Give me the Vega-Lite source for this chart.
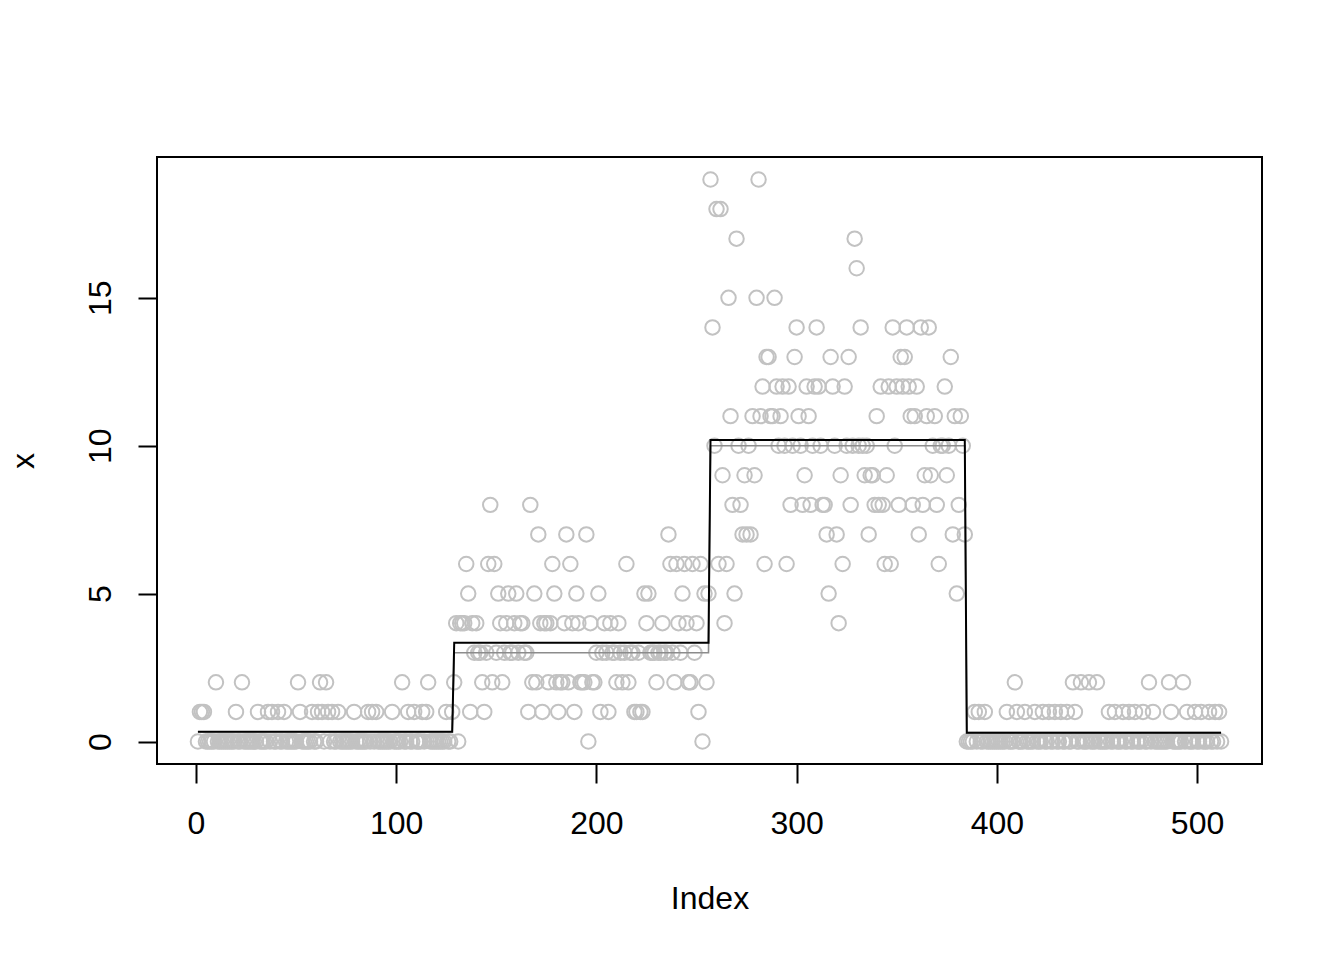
{
  "$schema": "https://vega.github.io/schema/vega-lite/v6.json",
  "autosize": {"type": "none"},
  "padding": {"left": 157, "top": 157, "right": 82, "bottom": 196},
  "width": 1105,
  "height": 607,
  "background": "white",
  "config": {
    "view": {"stroke": "black", "strokeWidth": 2},
    "font": "Liberation Sans"
  },
  "datasets": {
    "pts": [
{"i":1,"x":0},{"i":2,"x":1},{"i":3,"x":1},{"i":4,"x":1},{"i":5,"x":0},{"i":6,"x":0},{"i":7,"x":0},{"i":8,"x":0},{"i":9,"x":0},{"i":10,"x":2},
{"i":11,"x":0},{"i":12,"x":0},{"i":13,"x":0},{"i":14,"x":0},{"i":15,"x":0},{"i":16,"x":0},{"i":17,"x":0},{"i":18,"x":0},{"i":19,"x":0},{"i":20,"x":1},
{"i":21,"x":0},{"i":22,"x":0},{"i":23,"x":2},{"i":24,"x":0},{"i":25,"x":0},{"i":26,"x":0},{"i":27,"x":0},{"i":28,"x":0},{"i":29,"x":0},{"i":30,"x":0},
{"i":31,"x":1},{"i":32,"x":0},{"i":33,"x":0},{"i":34,"x":0},{"i":35,"x":0},{"i":36,"x":1},{"i":37,"x":0},{"i":38,"x":1},{"i":39,"x":0},{"i":40,"x":0},
{"i":41,"x":1},{"i":42,"x":0},{"i":43,"x":0},{"i":44,"x":1},{"i":45,"x":0},{"i":46,"x":0},{"i":47,"x":0},{"i":48,"x":0},{"i":49,"x":0},{"i":50,"x":0},
{"i":51,"x":2},{"i":52,"x":1},{"i":53,"x":0},{"i":54,"x":0},{"i":55,"x":0},{"i":56,"x":0},{"i":57,"x":0},{"i":58,"x":1},{"i":59,"x":0},{"i":60,"x":0},
{"i":61,"x":1},{"i":62,"x":2},{"i":63,"x":1},{"i":64,"x":0},{"i":65,"x":2},{"i":66,"x":1},{"i":67,"x":0},{"i":68,"x":1},{"i":69,"x":0},{"i":70,"x":0},
{"i":71,"x":1},{"i":72,"x":0},{"i":73,"x":0},{"i":74,"x":0},{"i":75,"x":0},{"i":76,"x":0},{"i":77,"x":0},{"i":78,"x":0},{"i":79,"x":1},{"i":80,"x":0},
{"i":81,"x":0},{"i":82,"x":0},{"i":83,"x":0},{"i":84,"x":0},{"i":85,"x":0},{"i":86,"x":1},{"i":87,"x":0},{"i":88,"x":1},{"i":89,"x":0},{"i":90,"x":1},
{"i":91,"x":0},{"i":92,"x":0},{"i":93,"x":0},{"i":94,"x":0},{"i":95,"x":0},{"i":96,"x":0},{"i":97,"x":0},{"i":98,"x":1},{"i":99,"x":0},{"i":100,"x":0},
{"i":101,"x":0},{"i":102,"x":0},{"i":103,"x":2},{"i":104,"x":0},{"i":105,"x":0},{"i":106,"x":1},{"i":107,"x":0},{"i":108,"x":0},{"i":109,"x":1},{"i":110,"x":0},
{"i":111,"x":0},{"i":112,"x":0},{"i":113,"x":1},{"i":114,"x":0},{"i":115,"x":1},{"i":116,"x":2},{"i":117,"x":0},{"i":118,"x":0},{"i":119,"x":0},{"i":120,"x":0},
{"i":121,"x":0},{"i":122,"x":0},{"i":123,"x":0},{"i":124,"x":0},{"i":125,"x":1},{"i":126,"x":0},{"i":127,"x":0},{"i":128,"x":1},
{"i":129,"x":2},{"i":130,"x":4},{"i":131,"x":0},{"i":132,"x":4},{"i":133,"x":4},{"i":134,"x":4},{"i":135,"x":6},{"i":136,"x":5},{"i":137,"x":1},{"i":138,"x":4},
{"i":139,"x":3},{"i":140,"x":4},{"i":141,"x":3},{"i":142,"x":3},{"i":143,"x":2},{"i":144,"x":1},{"i":145,"x":3},{"i":146,"x":6},{"i":147,"x":8},{"i":148,"x":2},
{"i":149,"x":6},{"i":150,"x":3},{"i":151,"x":5},{"i":152,"x":4},{"i":153,"x":2},{"i":154,"x":3},{"i":155,"x":4},{"i":156,"x":5},{"i":157,"x":3},{"i":158,"x":3},
{"i":159,"x":4},{"i":160,"x":5},{"i":161,"x":3},{"i":162,"x":4},{"i":163,"x":4},{"i":164,"x":3},{"i":165,"x":3},{"i":166,"x":1},{"i":167,"x":8},{"i":168,"x":2},
{"i":169,"x":5},{"i":170,"x":2},{"i":171,"x":7},{"i":172,"x":4},{"i":173,"x":1},{"i":174,"x":4},{"i":175,"x":4},{"i":176,"x":2},{"i":177,"x":4},{"i":178,"x":6},
{"i":179,"x":5},{"i":180,"x":2},{"i":181,"x":1},{"i":182,"x":2},{"i":183,"x":2},{"i":184,"x":4},{"i":185,"x":7},{"i":186,"x":2},{"i":187,"x":6},{"i":188,"x":4},
{"i":189,"x":1},{"i":190,"x":5},{"i":191,"x":4},{"i":192,"x":2},{"i":193,"x":2},{"i":194,"x":2},{"i":195,"x":7},{"i":196,"x":0},{"i":197,"x":4},{"i":198,"x":2},
{"i":199,"x":2},{"i":200,"x":3},{"i":201,"x":5},{"i":202,"x":1},{"i":203,"x":3},{"i":204,"x":4},{"i":205,"x":3},{"i":206,"x":1},{"i":207,"x":4},{"i":208,"x":3},
{"i":209,"x":3},{"i":210,"x":2},{"i":211,"x":4},{"i":212,"x":3},{"i":213,"x":2},{"i":214,"x":3},{"i":215,"x":6},{"i":216,"x":2},{"i":217,"x":3},{"i":218,"x":3},
{"i":219,"x":1},{"i":220,"x":1},{"i":221,"x":3},{"i":222,"x":1},{"i":223,"x":1},{"i":224,"x":5},{"i":225,"x":4},{"i":226,"x":5},{"i":227,"x":3},{"i":228,"x":3},
{"i":229,"x":3},{"i":230,"x":2},{"i":231,"x":3},{"i":232,"x":3},{"i":233,"x":4},{"i":234,"x":3},{"i":235,"x":3},{"i":236,"x":7},{"i":237,"x":6},{"i":238,"x":3},
{"i":239,"x":2},{"i":240,"x":6},{"i":241,"x":4},{"i":242,"x":3},{"i":243,"x":5},{"i":244,"x":6},{"i":245,"x":4},{"i":246,"x":2},{"i":247,"x":2},{"i":248,"x":6},
{"i":249,"x":3},{"i":250,"x":4},{"i":251,"x":1},{"i":252,"x":6},{"i":253,"x":0},{"i":254,"x":5},{"i":255,"x":2},{"i":256,"x":5},
{"i":257,"x":19},{"i":258,"x":14},{"i":259,"x":10},{"i":260,"x":18},{"i":261,"x":6},{"i":262,"x":18},{"i":263,"x":9},{"i":264,"x":4},{"i":265,"x":6},{"i":266,"x":15},
{"i":267,"x":11},{"i":268,"x":8},{"i":269,"x":5},{"i":270,"x":17},{"i":271,"x":10},{"i":272,"x":8},{"i":273,"x":7},{"i":274,"x":9},{"i":275,"x":7},{"i":276,"x":10},
{"i":277,"x":7},{"i":278,"x":11},{"i":279,"x":9},{"i":280,"x":15},{"i":281,"x":19},{"i":282,"x":11},{"i":283,"x":12},{"i":284,"x":6},{"i":285,"x":13},{"i":286,"x":13},
{"i":287,"x":11},{"i":288,"x":11},{"i":289,"x":15},{"i":290,"x":12},{"i":291,"x":10},{"i":292,"x":11},{"i":293,"x":12},{"i":294,"x":10},{"i":295,"x":6},{"i":296,"x":12},
{"i":297,"x":8},{"i":298,"x":10},{"i":299,"x":13},{"i":300,"x":14},{"i":301,"x":11},{"i":302,"x":10},{"i":303,"x":8},{"i":304,"x":9},{"i":305,"x":12},{"i":306,"x":11},
{"i":307,"x":8},{"i":308,"x":10},{"i":309,"x":12},{"i":310,"x":14},{"i":311,"x":12},{"i":312,"x":10},{"i":313,"x":8},
{"i":314,"x":8},{"i":315,"x":7},{"i":316,"x":5},{"i":317,"x":13},{"i":318,"x":12},{"i":319,"x":10},{"i":320,"x":7},{"i":321,"x":4},{"i":322,"x":9},{"i":323,"x":6},
{"i":324,"x":12},{"i":325,"x":10},{"i":326,"x":13},{"i":327,"x":8},{"i":328,"x":10},{"i":329,"x":17},{"i":330,"x":16},{"i":331,"x":10},{"i":332,"x":14},{"i":333,"x":10},
{"i":334,"x":9},{"i":335,"x":10},{"i":336,"x":7},{"i":337,"x":9},{"i":338,"x":9},{"i":339,"x":8},{"i":340,"x":11},{"i":341,"x":8},{"i":342,"x":12},{"i":343,"x":8},
{"i":344,"x":6},{"i":345,"x":9},{"i":346,"x":12},{"i":347,"x":6},{"i":348,"x":14},{"i":349,"x":10},{"i":350,"x":12},{"i":351,"x":8},{"i":352,"x":13},{"i":353,"x":12},
{"i":354,"x":13},{"i":355,"x":14},{"i":356,"x":12},{"i":357,"x":11},{"i":358,"x":8},{"i":359,"x":11},{"i":360,"x":12},{"i":361,"x":7},{"i":362,"x":14},{"i":363,"x":8},
{"i":364,"x":9},{"i":365,"x":11},{"i":366,"x":14},{"i":367,"x":9},{"i":368,"x":10},{"i":369,"x":11},{"i":370,"x":8},{"i":371,"x":6},{"i":372,"x":10},{"i":373,"x":10},
{"i":374,"x":12},{"i":375,"x":9},{"i":376,"x":10},{"i":377,"x":13},{"i":378,"x":7},{"i":379,"x":11},{"i":380,"x":5},{"i":381,"x":8},{"i":382,"x":11},{"i":383,"x":10},
{"i":384,"x":7},
{"i":385,"x":0},{"i":386,"x":0},{"i":387,"x":0},{"i":388,"x":0},{"i":389,"x":1},{"i":390,"x":0},{"i":391,"x":1},{"i":392,"x":0},{"i":393,"x":0},{"i":394,"x":1},
{"i":395,"x":0},{"i":396,"x":0},{"i":397,"x":0},{"i":398,"x":0},{"i":399,"x":0},{"i":400,"x":0},{"i":401,"x":0},{"i":402,"x":0},{"i":403,"x":0},{"i":404,"x":0},
{"i":405,"x":1},{"i":406,"x":0},{"i":407,"x":0},{"i":408,"x":0},{"i":409,"x":2},{"i":410,"x":1},{"i":411,"x":0},{"i":412,"x":0},{"i":413,"x":0},{"i":414,"x":1},
{"i":415,"x":0},{"i":416,"x":0},{"i":417,"x":0},{"i":418,"x":0},{"i":419,"x":1},{"i":420,"x":0},{"i":421,"x":0},{"i":422,"x":0},{"i":423,"x":1},{"i":424,"x":0},
{"i":425,"x":0},{"i":426,"x":1},{"i":427,"x":0},{"i":428,"x":0},{"i":429,"x":1},{"i":430,"x":0},{"i":431,"x":0},{"i":432,"x":1},{"i":433,"x":0},{"i":434,"x":0},
{"i":435,"x":1},{"i":436,"x":0},{"i":437,"x":0},{"i":438,"x":2},{"i":439,"x":1},{"i":440,"x":0},{"i":441,"x":0},{"i":442,"x":2},{"i":443,"x":0},{"i":444,"x":0},
{"i":445,"x":0},{"i":446,"x":2},{"i":447,"x":0},{"i":448,"x":0},{"i":449,"x":0},{"i":450,"x":2},{"i":451,"x":0},{"i":452,"x":0},{"i":453,"x":0},{"i":454,"x":0},
{"i":455,"x":0},{"i":456,"x":1},{"i":457,"x":0},{"i":458,"x":0},{"i":459,"x":1},{"i":460,"x":0},{"i":461,"x":0},{"i":462,"x":0},{"i":463,"x":1},{"i":464,"x":0},
{"i":465,"x":0},{"i":466,"x":1},{"i":467,"x":0},{"i":468,"x":0},{"i":469,"x":1},{"i":470,"x":0},{"i":471,"x":0},{"i":472,"x":0},{"i":473,"x":1},{"i":474,"x":0},
{"i":475,"x":0},{"i":476,"x":2},{"i":477,"x":0},{"i":478,"x":1},{"i":479,"x":0},{"i":480,"x":0},{"i":481,"x":0},{"i":482,"x":0},{"i":483,"x":0},{"i":484,"x":0},
{"i":485,"x":0},{"i":486,"x":2},{"i":487,"x":1},{"i":488,"x":0},{"i":489,"x":0},{"i":490,"x":0},{"i":491,"x":0},{"i":492,"x":0},{"i":493,"x":2},{"i":494,"x":0},
{"i":495,"x":1},{"i":496,"x":0},{"i":497,"x":0},{"i":498,"x":0},{"i":499,"x":1},{"i":500,"x":0},{"i":501,"x":0},{"i":502,"x":1},{"i":503,"x":0},{"i":504,"x":0},
{"i":505,"x":0},{"i":506,"x":1},{"i":507,"x":0},{"i":508,"x":0},{"i":509,"x":1},{"i":510,"x":0},{"i":511,"x":1},{"i":512,"x":0}
    ],
    "steps": [
      {"i": 1, "est": 0.33, "truth": 0.33},
      {"i": 128, "est": 0.33, "truth": 0.33},
      {"i": 129, "est": 3.34, "truth": 3},
      {"i": 256, "est": 3.34, "truth": 3},
      {"i": 257, "est": 10.19, "truth": 10},
      {"i": 384, "est": 10.19, "truth": 10},
      {"i": 385, "est": 0.3, "truth": 0.3},
      {"i": 512, "est": 0.3, "truth": 0.3}
    ]
  },
  "encoding": {
    "x": {
      "field": "i", "type": "quantitative",
      "scale": {"domain": [-19.44, 532.44], "nice": false, "zero": false},
      "axis": {
        "values": [0, 100, 200, 300, 400, 500],
        "title": "Index",
        "domain": false, "grid": false,
        "tickColor": "black", "tickWidth": 2, "tickSize": 19,
        "labelFont": "Liberation Sans", "labelFontSize": 32, "labelColor": "black",
        "labelBaseline": "alphabetic", "labelPadding": 50, "labelFlush": false, "labelOverlap": false,
        "titleFont": "Liberation Sans", "titleFontSize": 32, "titleFontWeight": "normal", "titleColor": "black",
        "titleBaseline": "alphabetic", "titleAlign": "center", "titleX": 552.5, "titleY": 144
      }
    },
    "y": {
      "field": "x", "type": "quantitative",
      "scale": {"domain": [-0.76, 19.76], "nice": false, "zero": false},
      "axis": {
        "values": [0, 5, 10, 15],
        "title": "x",
        "domain": false, "grid": false,
        "tickColor": "black", "tickWidth": 2, "tickSize": 19,
        "labelFont": "Liberation Sans", "labelFontSize": 32, "labelColor": "black",
        "labelAngle": 270, "labelAlign": "center", "labelBaseline": "alphabetic", "labelPadding": 28,
        "labelFlush": false, "labelOverlap": false,
        "titleFont": "Liberation Sans", "titleFontSize": 32, "titleFontWeight": "normal", "titleColor": "black",
        "titleAngle": 270, "titleAlign": "center", "titleBaseline": "alphabetic", "titleX": -124, "titleY": 303.5
      }
    }
  },
  "layer": [
    {
      "data": {"name": "pts"},
      "mark": {"type": "point", "shape": "circle", "filled": false, "size": 210, "strokeWidth": 2, "color": "#C2C2C2", "opacity": 1}
    },
    {
      "data": {"name": "steps"},
      "mark": {"type": "line", "color": "#8C8C8C", "strokeWidth": 1.6},
      "encoding": {"y": {"field": "truth", "type": "quantitative"}}
    },
    {
      "data": {"name": "steps"},
      "mark": {"type": "line", "color": "black", "strokeWidth": 2},
      "encoding": {"y": {"field": "est", "type": "quantitative"}}
    }
  ]
}
